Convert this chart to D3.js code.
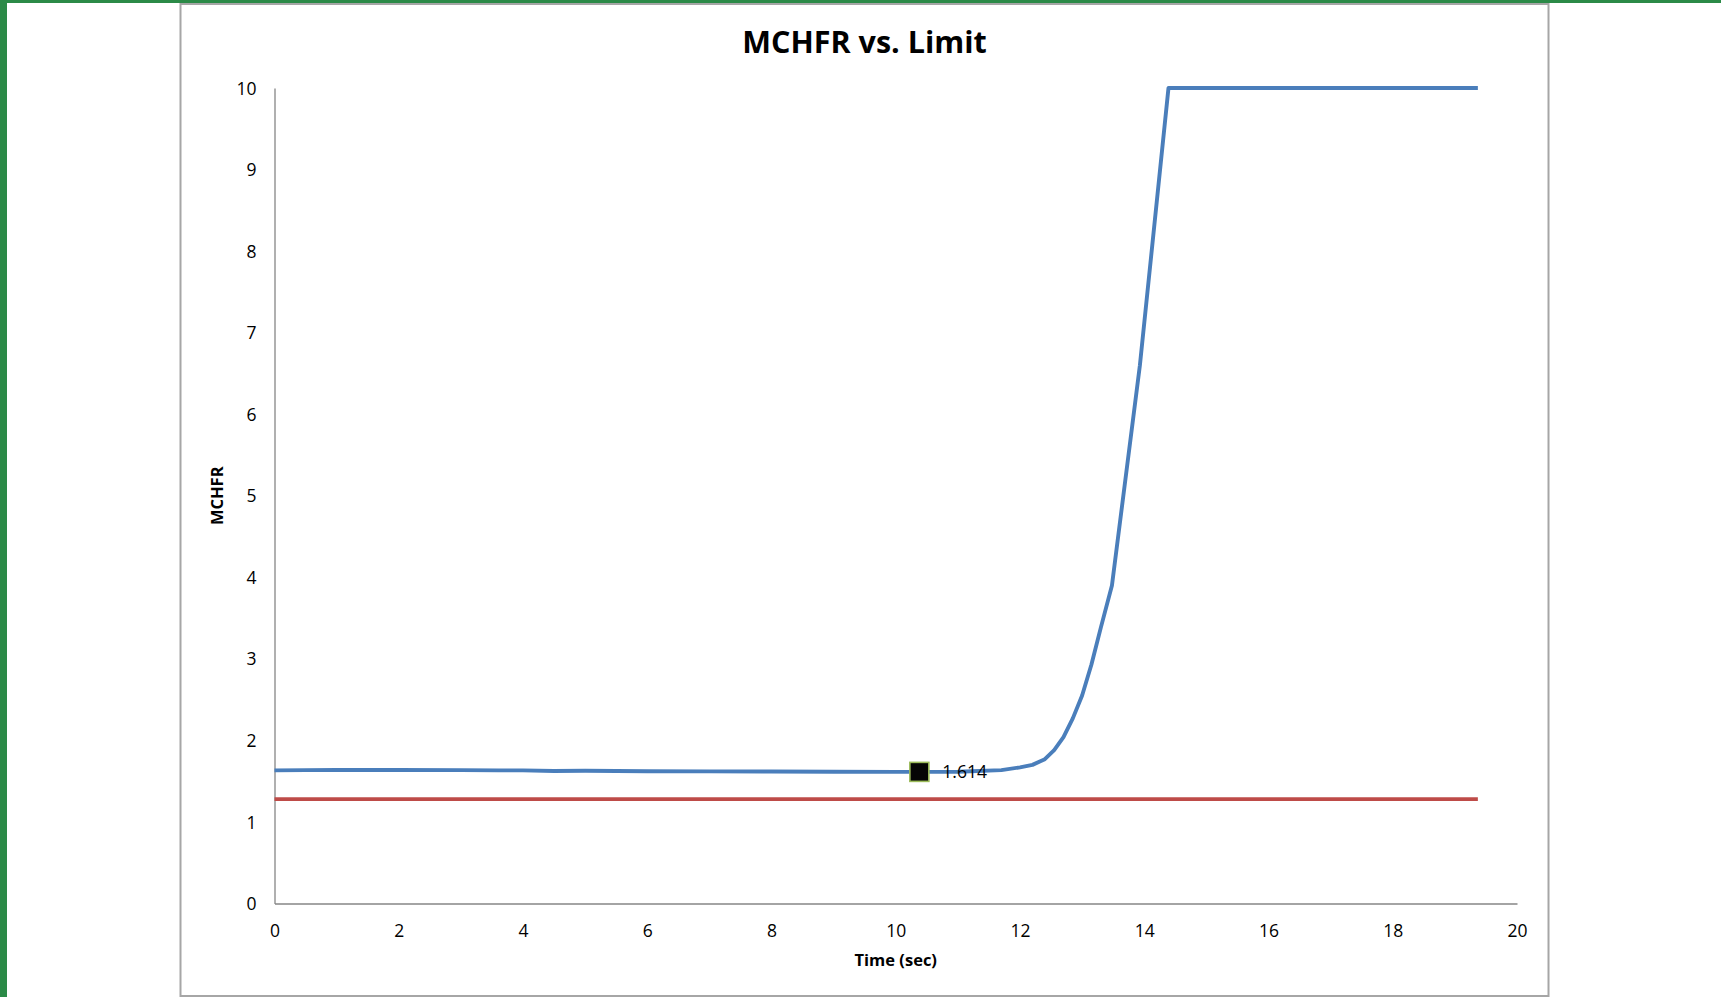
<!DOCTYPE html>
<html>
<head>
<meta charset="utf-8">
<script src="https://cdn.jsdelivr.net/npm/d3@7"></script>
<style>
  html, body { margin: 0; padding: 0; background: #ffffff; }
  svg { display: block; }
  text { font-family: "Open Sans", "Liberation Sans", sans-serif; fill: #000; }
</style>
</head>
<body>
<svg id="chart" width="1721" height="997"></svg>
<script>
// Transient time (s) and MCHFR samples
const timeSec = [0, 0.5, 1, 2, 3, 3.6, 4.0, 4.5, 5, 6, 7, 8, 9, 10, 10.38, 11, 11.7,
  12.0, 12.2, 12.4, 12.55, 12.7, 12.85, 13.0, 13.15, 13.3, 13.48, 13.93, 14.39, 19.37];
const mchfr = [1.633, 1.635, 1.637, 1.637, 1.635, 1.632, 1.633, 1.625, 1.627, 1.622, 1.620, 1.618, 1.616, 1.614, 1.614, 1.616, 1.635,
  1.67, 1.70, 1.77, 1.88, 2.04, 2.27, 2.55, 2.93, 3.38, 3.90, 6.60, 10, 10];
// Safety limit, constant over the run
const limitTime = [0, 19.37];
const limitValue = [1.28, 1.28];
// Labelled minimum point
const minPoint = { t: 10.38, v: 1.614, label: "1.614" };
const xTicks = [0, 2, 4, 6, 8, 10, 12, 14, 16, 18, 20];
const yTicks = [0, 1, 2, 3, 4, 5, 6, 7, 8, 9, 10];

const svg = d3.select("#chart");

// Outer frame: green page edge, then grey chart area border
svg.append("rect").attr("x", 0).attr("y", 0).attr("width", 1721).attr("height", 3).attr("fill", "#2b8a47");
svg.append("rect").attr("x", 0).attr("y", 0).attr("width", 7).attr("height", 997).attr("fill", "#2b8a47");
svg.append("rect").attr("x", 180.5).attr("y", 4).attr("width", 1368).attr("height", 992)
  .attr("fill", "#ffffff").attr("stroke", "#a6a6a6").attr("stroke-width", 2);

const x = d3.scaleLinear().domain([0, 20]).range([274.5, 1517]);
const y = d3.scaleLinear().domain([0, 10]).range([903.5, 88]);

// Axes (no tick marks, grey lines)
const xAxis = svg.append("g").attr("transform", `translate(0,${y(0)})`)
  .call(d3.axisBottom(x).tickValues(xTicks).tickSize(0).tickPadding(0).tickFormat(d3.format("d")));
xAxis.select(".domain").attr("stroke", "#868686").attr("stroke-width", 1.3);
xAxis.selectAll("text").attr("font-size", 17.5).attr("y", 33).attr("dy", 0)
  .style("font-family", "'Open Sans', sans-serif").attr("fill", "#000");

const yAxis = svg.append("g").attr("transform", `translate(${x(0)},0)`)
  .call(d3.axisLeft(y).tickValues(yTicks).tickSize(0).tickPadding(0).tickFormat(d3.format("d")));
yAxis.select(".domain").attr("stroke", "#868686").attr("stroke-width", 1.3);
yAxis.selectAll("text").attr("font-size", 17.5).attr("x", -18).attr("dy", "0.35em")
  .style("font-family", "'Open Sans', sans-serif").attr("fill", "#000");

const line = d3.line().x(d => x(d[0])).y(d => y(d[1]));

// Limit line
svg.append("path")
  .datum(d3.zip(limitTime, limitValue))
  .attr("d", line).attr("fill", "none")
  .attr("stroke", "#be4b48").attr("stroke-width", 3.9);

// MCHFR trace
svg.append("path")
  .datum(d3.zip(timeSec, mchfr))
  .attr("d", line).attr("fill", "none")
  .attr("stroke", "#4a7ebb").attr("stroke-width", 3.9)
  .attr("stroke-linejoin", "round");

// Minimum marker and its value label
const ms = 19;
svg.append("rect")
  .attr("x", x(minPoint.t) - ms / 2).attr("y", y(minPoint.v) - ms / 2)
  .attr("width", ms).attr("height", ms)
  .attr("fill", "#050505").attr("stroke", "#9bbb59").attr("stroke-width", 1.6);
svg.append("text")
  .attr("x", x(minPoint.t) + 23).attr("y", y(minPoint.v)).attr("dy", "0.36em")
  .attr("font-size", 17.5).text(minPoint.label);

// Titles
svg.append("text").attr("x", 864.5).attr("y", 53).attr("text-anchor", "middle")
  .attr("font-size", 30.5).attr("font-weight", "bold").text("MCHFR vs. Limit");
svg.append("text").attr("x", x(10)).attr("y", 966).attr("text-anchor", "middle")
  .attr("font-size", 16.5).attr("font-weight", "bold").text("Time (sec)");
svg.append("text").attr("transform", `translate(223,${(y(0) + y(10)) / 2}) rotate(-90)`)
  .attr("text-anchor", "middle")
  .attr("font-size", 16.5).attr("font-weight", "bold").text("MCHFR");
</script>
</body>
</html>
